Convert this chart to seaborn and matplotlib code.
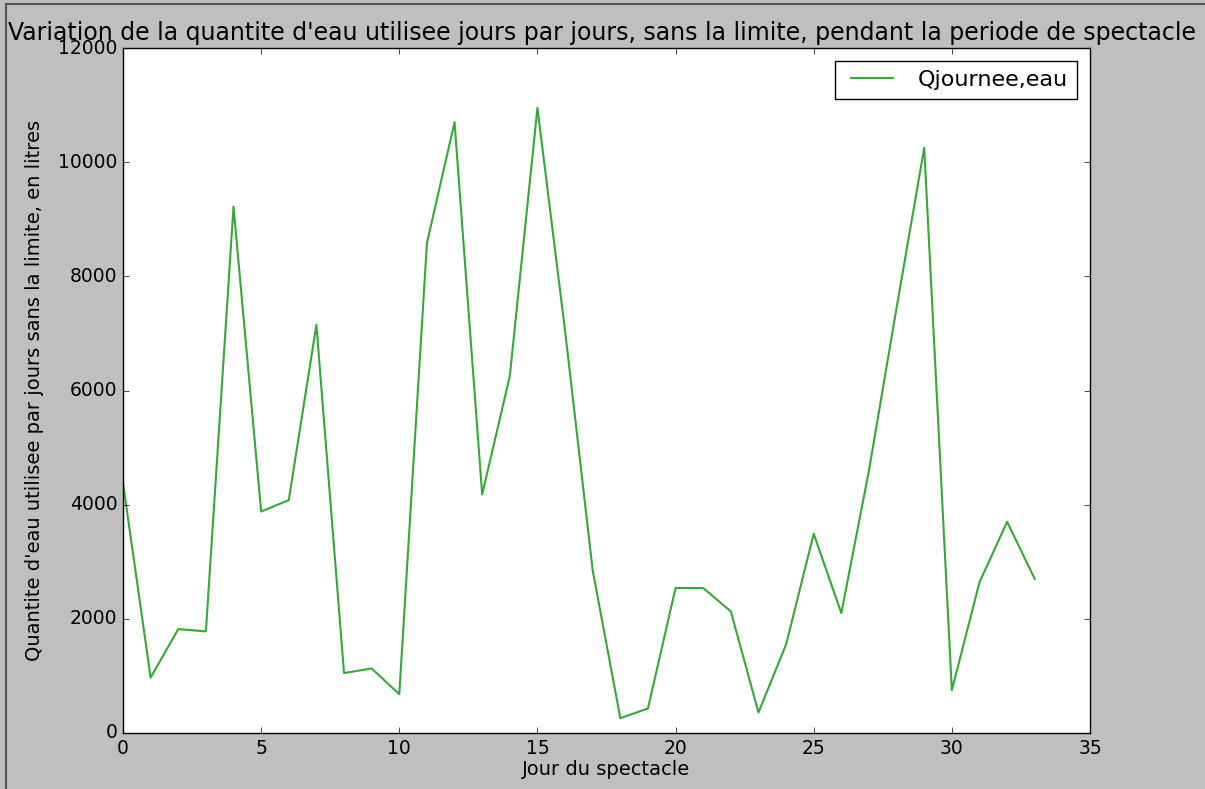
import numpy as np
import pandas as pd
import matplotlib
matplotlib.use('Agg')
import matplotlib.pyplot as plt
import seaborn as sns

# Jours du spectacle et quantite d'eau (litres)
jours = list(range(34))
q_eau = [4380, 970, 1820, 1780, 9220, 3880, 4080, 7150, 1050, 1130,
         680, 8580, 10700, 4180, 6250, 10950, 7050, 2850, 260, 430,
         2540, 2540, 2130, 360, 1550, 3490, 2100, 4600, 7450, 10250,
         750, 2640, 3700, 2700]
x_ticks = [0, 5, 10, 15, 20, 25, 30, 35]
y_ticks = [0, 2000, 4000, 6000, 8000, 10000, 12000]

df = pd.DataFrame({'jour': jours, 'eau': q_eau})

plt.style.use('classic')
plt.rcParams['font.family'] = ['DejaVu Sans']

fig = plt.figure(figsize=(12.05, 7.89), dpi=100)
fig.patch.set_facecolor('#bfbfbf')
ax = fig.add_axes([123 / 1205, 1 - 733 / 789, (1090 - 123) / 1205, (733 - 48) / 789])

sns.lineplot(data=df, x='jour', y='eau', color='#35a835', linewidth=1.5,
             label='Qjournee,eau', ax=ax)

ax.set_xlim(0, 35)
ax.set_ylim(0, 12000)
ax.set_xticks(x_ticks)
ax.set_yticks(y_ticks)
ax.tick_params(labelsize=13.5)
fig.suptitle("Variation de la quantite d'eau utilisee jours par jours, sans la limite, pendant la periode de spectacle",
             fontsize=17, x=0.5, y=0.973, va='top')
ax.set_xlabel('Jour du spectacle', fontsize=14, labelpad=2)
ax.set_ylabel("Quantite d'eau utilisee par jours sans la limite, en litres", fontsize=14, labelpad=10)
ax.legend(loc='upper right', fontsize=16, handlelength=2.5, borderaxespad=0.6)

# thin dark border on the left and top edges of the figure
fig.add_artist(plt.Line2D([0.005, 0.005], [0, 0.995], color='#555555', lw=1.5, transform=fig.transFigure))
fig.add_artist(plt.Line2D([0.005, 1], [0.995, 0.995], color='#555555', lw=1.5, transform=fig.transFigure))

fig.savefig('out.png', dpi=100, facecolor=fig.get_facecolor())
